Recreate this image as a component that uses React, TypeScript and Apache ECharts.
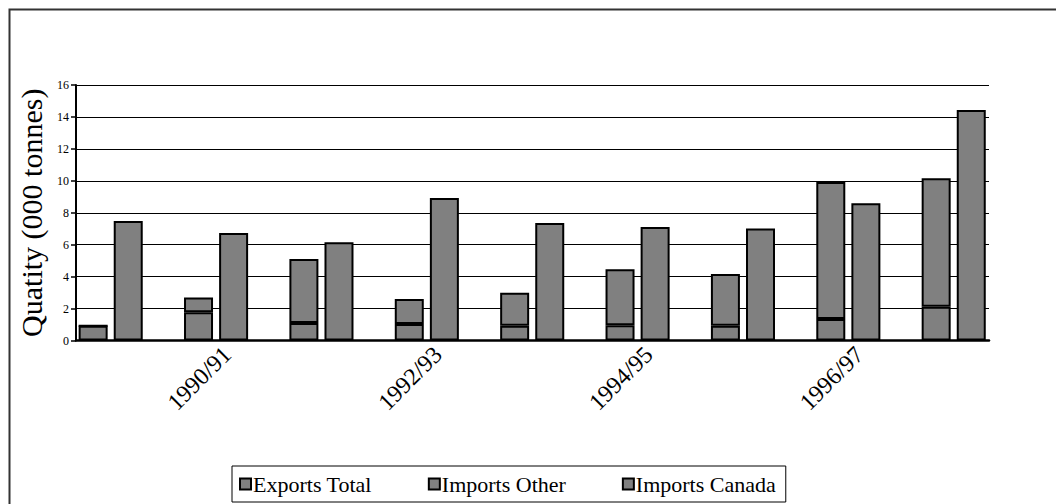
import React, { useEffect, useRef } from "react";
import * as echarts from "echarts";

const categories = ["1989/90", "1990/91", "1991/92", "1992/93", "1993/94", "1994/95", "1995/96", "1996/97", "1997/98"];
const importsOther = [0.93, 1.77, 1.1, 1.03, 0.93, 0.95, 0.93, 1.35, 2.12];
const importsCanada = [0, 0.93, 4.0, 1.57, 2.06, 3.51, 3.23, 8.57, 8.04];
const exportsTotal = [7.48, 6.73, 6.15, 8.92, 7.36, 7.1, 7.02, 8.59, 14.43];
const yTicks = { min: 0, max: 16, interval: 2 };

const FONT = "Liberation Serif";

export default function App() {
  const ref = useRef<HTMLDivElement>(null);
  useEffect(() => {
    if (!ref.current) return;
    const chart = echarts.init(ref.current, undefined, { renderer: "svg" });
    const barStyle = { color: "#808080", borderColor: "#000", borderWidth: 2 };
    chart.setOption({
      animation: false,
      backgroundColor: "#fff",
      textStyle: { fontFamily: FONT, color: "#000" },
      graphic: [
        {
          type: "rect",
          shape: { x: 9.5, y: 9.5, width: 1200, height: 700 },
          style: { fill: "none", stroke: "#333", lineWidth: 2 },
          silent: true,
        },
      ],
      grid: [
        { left: 76, right: 67, top: 85, bottom: 163.5 },
        { left: 58, right: 49.6, top: 85, bottom: 163.5 },
        { left: 69, right: 38.6, top: 85, bottom: 163.5 },
      ],
      xAxis: [
        {
          type: "category",
          gridIndex: 0,
          data: categories,
          axisLine: { show: true, lineStyle: { color: "#000", width: 2.5 } },
          axisTick: { show: false },
          axisLabel: { show: false },
          splitLine: { show: false },
        },
        {
          type: "category",
          gridIndex: 1,
          data: categories,
          axisLine: { show: false },
          axisTick: { show: false },
          axisLabel: { show: false },
        },
        {
          type: "category",
          gridIndex: 2,
          data: categories,
          axisLine: { show: false },
          axisTick: { show: false },
          axisLabel: {
            show: true,
            rotate: 45,
            interval: (index: number) => index % 2 === 1,
            fontFamily: FONT,
            fontSize: 24,
            color: "#000",
            margin: 10,
          },
        },
      ],
      yAxis: [
        {
          type: "value",
          gridIndex: 0,
          min: yTicks.min,
          max: yTicks.max,
          interval: yTicks.interval,
          name: "Quatity (000 tonnes)",
          nameLocation: "middle",
          nameRotate: 90,
          nameGap: 30,
          nameTextStyle: { fontFamily: FONT, fontSize: 30, color: "#000" },
          axisLine: { show: true, lineStyle: { color: "#000", width: 2 } },
          axisTick: { show: true, length: 5, lineStyle: { color: "#000", width: 1.5 } },
          axisLabel: { fontFamily: FONT, fontSize: 12, color: "#000", margin: 7 },
          splitLine: { show: true, lineStyle: { color: "#000", width: 1 } },
        },
        {
          type: "value",
          gridIndex: 1,
          min: yTicks.min,
          max: yTicks.max,
          interval: yTicks.interval,
          show: false,
          splitLine: { show: false },
        },
        {
          type: "value",
          gridIndex: 2,
          min: yTicks.min,
          max: yTicks.max,
          interval: yTicks.interval,
          show: false,
          splitLine: { show: false },
        },
      ],
      legend: {
        data: ["Exports Total", "Imports Other", "Imports Canada"],
        left: 232,
        top: 466,
        orient: "horizontal",
        borderColor: "#000",
        borderWidth: 1,
        padding: [7, 10, 7, 7],
        itemGap: 56,
        itemWidth: 11,
        itemHeight: 11,
        icon: "rect",
        itemStyle: { color: "#808080", borderColor: "#000", borderWidth: 2 },
        textStyle: { fontFamily: FONT, fontSize: 22, color: "#000", padding: [0, 0, 0, -3] },
      },
      series: [
        {
          name: "Imports Other",
          type: "bar",
          xAxisIndex: 1,
          yAxisIndex: 1,
          stack: "imports",
          data: importsOther,
          barWidth: 29,
          barGap: "21%",
          itemStyle: barStyle,
        },
        {
          name: "Imports Canada",
          type: "bar",
          xAxisIndex: 1,
          yAxisIndex: 1,
          stack: "imports",
          data: importsCanada,
          barWidth: 29,
          barGap: "21%",
          itemStyle: barStyle,
        },
        {
          name: "Exports Total",
          type: "bar",
          xAxisIndex: 1,
          yAxisIndex: 1,
          data: exportsTotal,
          barWidth: 29,
          barGap: "21%",
          itemStyle: barStyle,
        },
      ],
    });
    return () => chart.dispose();
  }, []);
  return (
    <div
      ref={ref}
      style={{ position: "fixed", left: 0, top: 0, width: 1056, height: 504 }}
    />
  );
}
